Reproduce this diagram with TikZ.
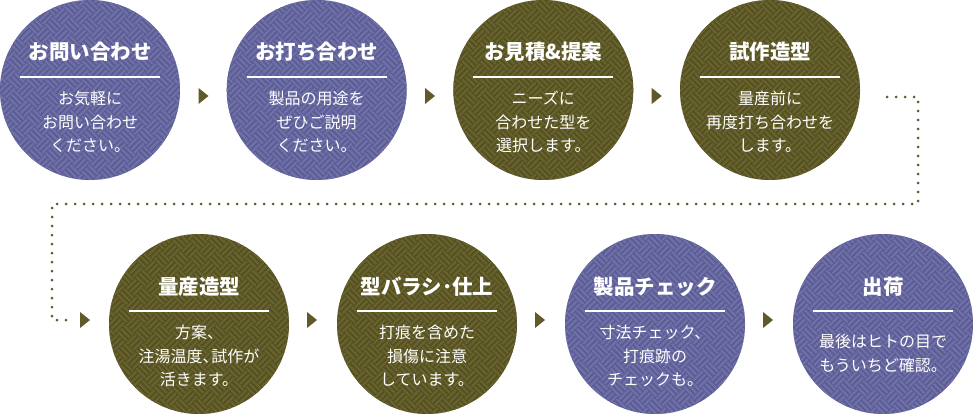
\documentclass[tikz,border=0pt]{standalone}
\usepackage{fontspec}
\setmainfont{Noto Sans CJK JP}
\definecolor{pbase}{HTML}{5C5C94}
\definecolor{pstripe}{HTML}{7070A8}
\definecolor{obase}{HTML}{54501F}
\definecolor{ostripe}{HTML}{67622F}
\definecolor{arrowc}{HTML}{5F5A27}
\newcommand\weave[2]{%
  \begin{scope}
    \clip (#1.center) circle (90);
    \begin{scope}[shift={(#1.center)},rotate=45]
    \foreach \i in {-8,...,7}{\foreach \j in {-8,...,7}{%
      \pgfmathtruncatemacro\pp{mod(\i+\j+40,2)}%
      \ifnum\pp=0
        \draw[#2,line width=2.2pt] (\i*13,\j*13+2.2) -- ++(13,0) (\i*13,\j*13+6.5) -- ++(13,0) (\i*13,\j*13+10.8) -- ++(13,0);
      \else
        \draw[#2,line width=2.2pt] (\i*13+2.2,\j*13) -- ++(0,13) (\i*13+6.5,\j*13) -- ++(0,13) (\i*13+10.8,\j*13) -- ++(0,13);
      \fi
    }}
    \end{scope}
  \end{scope}}
\newcommand\steparrow[3]{%
  \coordinate (#1) at (#2,#3);
  \fill[arrowc] ([shift={(-5,-8)}]#1) -- ([shift={(5,0)}]#1) -- ([shift={(-5,8)}]#1) -- cycle;}
\begin{document}
\begin{tikzpicture}[x=1pt,y=-1pt,
  pcirc/.style={circle, minimum size=180pt, inner sep=0pt, fill=pbase},
  ocirc/.style={circle, minimum size=180pt, inner sep=0pt, fill=obase},
  ttl/.style={text=white, font=\bfseries\fontsize{20.5pt}{24pt}\selectfont, anchor=base, inner sep=0pt},
  body/.style={text=white, font=\fontsize{16pt}{23.5pt}\selectfont, align=center, anchor=north, inner sep=0pt},
  rule/.style={white, line width=2pt},
  dotline/.style={arrowc, line width=3pt, line cap=round, dash pattern=on 0pt off 9pt}]
\useasboundingbox (0,0) rectangle (973,414);
% circles
\node[pcirc] (c1) at (90,90) {};
\node[pcirc] (c2) at (316.7,90) {};
\node[ocirc] (c3) at (543.3,90) {};
\node[ocirc] (c4) at (770,90) {};
\node[ocirc] (c5) at (199,324) {};
\node[ocirc] (c6) at (427,324) {};
\node[pcirc] (c7) at (655,324) {};
\node[pcirc] (c8) at (883,324) {};
\weave{c1}{pstripe}
\weave{c2}{pstripe}
\weave{c3}{ostripe}
\weave{c4}{ostripe}
\weave{c5}{ostripe}
\weave{c6}{ostripe}
\weave{c7}{pstripe}
\weave{c8}{pstripe}
% titles
\node[ttl] (h1) at ([yshift=30pt]c1.center) {お問い合わせ};
\node[ttl] (h2) at ([yshift=30pt]c2.center) {お打ち合わせ};
\node[ttl] (h3) at ([yshift=30pt]c3.center) {お見積\&提案};
\node[ttl] (h4) at ([yshift=30pt]c4.center) {試作造型};
\node[ttl] (h5) at ([yshift=30pt]c5.center) {量産造型};
\node[ttl] (h6) at ([yshift=30pt]c6.center) {型バラシ･仕上};
\node[ttl] (h7) at ([yshift=30pt]c7.center) {製品チェック};
\node[ttl] (h8) at ([yshift=30pt]c8.center) {出荷};
% rules
\foreach \c in {c1,c2,c3,c4,c5,c6,c7,c8}{
  \draw[rule] ([shift={(-70,-13)}]\c.center) -- ([shift={(70,-13)}]\c.center);
}
% bodies
\node[body] (b1) at ([yshift=-1pt]c1.center) {お気軽に\\お問い合わせ\\ください。};
\node[body] (b2) at ([yshift=-1pt]c2.center) {製品の用途を\\ぜひご説明\\ください。};
\node[body] (b3) at ([yshift=-1pt]c3.center) {ニーズに\\合わせた型を\\選択します。};
\node[body] (b4) at ([yshift=-1pt]c4.center) {量産前に\\再度打ち合わせを\\します。};
\node[body] (b5) at ([yshift=-1pt]c5.center) {方案、\\注湯温度、\hspace{-0.45em}試作が\\活きます。};
\node[body] (b6) at ([yshift=-1pt]c6.center) {打痕を含めた\\損傷に注意\\しています。};
\node[body] (b7) at ([yshift=-1pt]c7.center) {寸法チェック、\\打痕跡の\\チェックも。};
\node[body] (b8) at ([yshift=-10pt]c8.center) {最後はヒトの目で\\もういちど確認。};
% arrows
\steparrow{a1}{203.5}{96}
\steparrow{a2}{430}{96}
\steparrow{a3}{656.7}{96}
\steparrow{a4}{85}{320}
\steparrow{a5}{312}{320}
\steparrow{a6}{540}{320}
\steparrow{a7}{768}{320}
% dotted connector
\coordinate (d0) at (887,97);
\coordinate (d1) at (918,204);
\coordinate (d2) at (52,204);
\coordinate (d3) at (72,320);
\draw[dotline] (d0) -| (d1) -- (d2) |- (d3);
\end{tikzpicture}
\end{document}
